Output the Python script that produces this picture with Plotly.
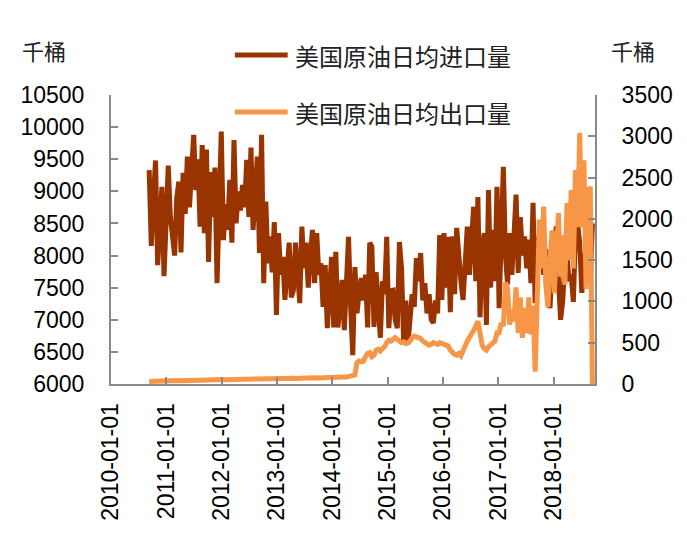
import pandas as pd
import plotly.graph_objects as go

start_date = "2010-09-10"

imports = [
    9330, 8150, 8900, 9480, 7850, 8600, 9070, 7680, 8700, 9400,
    8600, 8200, 8000, 8900, 9150, 8050, 9290, 8650, 9540, 8750,
    9350, 9880, 9020, 9500, 8450, 9720, 8350, 9650, 7900, 9300,
    8600, 9370, 7570, 8700, 9930, 8240, 8800, 8400, 9180, 8200,
    9800, 8500, 9000, 8700, 9100, 8750, 9490, 8600, 9680, 8400,
    9100, 9540, 8040, 9880, 7570, 8840, 7880, 8300, 7740, 8520,
    7075, 8350, 7700, 7980, 7310, 7900, 8200, 7350, 7460, 8200,
    7600, 7260, 8450, 7800, 8200, 7500, 8000, 8400, 7570, 8350,
    7700, 7880, 7200, 7850, 6870, 7500, 7980, 6880, 8060, 6880,
    7300, 7620, 6840, 7500, 8290, 7200, 6450, 7820, 7100, 7420,
    7650, 7300, 7700, 6880, 8200, 8140, 6890, 7740, 7300, 6720,
    7600, 7400, 8290, 6870, 7450, 7460, 7000, 6870, 8210, 7800,
    6640, 7300, 6620, 7100, 7400, 7200, 7960, 7600, 8040, 7300,
    7570, 7100, 7400, 7000, 6950, 7300, 7100, 8320, 7310, 8350,
    7500, 8290, 7120, 8300, 7400, 8430, 7900, 7600, 7310, 7800,
    8450, 7700, 8300, 8760, 7600, 8910, 7040, 8100, 8350, 6920,
    9020, 7500, 8400, 7600, 9070, 7180, 8300, 9380, 8000, 7550,
    8350, 7700, 8300, 8950, 7730, 8600, 8000, 8300, 7800, 8250,
    7570, 8820, 7260, 8300, 7900, 8400, 7700, 8100, 7500, 7180,
    7900, 8200, 8450, 7600, 7000, 7300, 7900, 8000, 7600, 7700,
    7280, 8350, 8500, 8200, 7420, 7900, 8100, 9050, 7600, 8500,
]

exports = [
    30, 32, 30, 33, 35, 34, 36, 35, 38, 37,
    38, 40, 39, 41, 40, 42, 41, 43, 42, 44,
    43, 45, 44, 46, 45, 47, 48, 47, 49, 48,
    50, 49, 51, 52, 50, 53, 52, 54, 53, 55,
    54, 56, 55, 57, 56, 58, 57, 59, 60, 58,
    60, 61, 60, 62, 61, 63, 62, 64, 63, 65,
    64, 66, 65, 67, 66, 68, 67, 69, 70, 68,
    70, 71, 70, 72, 71, 73, 72, 74, 75, 73,
    75, 76, 75, 77, 78, 76, 78, 80, 79, 81,
    80, 82, 85, 84, 88, 90, 95, 110, 260, 280,
    270, 275, 330, 370, 380, 330, 350, 410, 420, 400,
    430, 450, 500, 530, 520, 540, 560, 540, 520, 500,
    510, 490, 500, 520, 560, 580, 570, 560, 550, 520,
    500, 480, 470, 480, 500, 490, 480, 500, 490, 480,
    470, 460, 410, 380, 360, 350, 370, 340, 420, 460,
    520, 560, 590, 650, 700, 760, 620, 470, 430, 410,
    450, 470, 500, 520, 620, 620, 740, 700, 1230, 1150,
    720, 900, 760, 1170, 620, 1050, 560, 920, 620, 1050,
    600, 950, 150, 1300, 1990, 1400, 2150, 1200, 930, 1500,
    1860, 1100, 1700, 2070, 1300, 1800, 1200, 2190, 1500, 2350,
    1400, 2590, 1900, 3040, 1900, 2710, 1150, 2300, 2390, 0,
]

dates = pd.date_range(start_date, periods=len(imports), freq="14D")

year_ticks = ["2010-01-01", "2011-01-01", "2012-01-01", "2013-01-01", "2014-01-01",
              "2015-01-01", "2016-01-01", "2017-01-01", "2018-01-01"]

name_import = "美国原油日均进口量"
name_export = "美国原油日均出口量"
unit_label = "千桶"

brown = "#993300"
orange = "#F79646"
axis_gray = "#898989"
num_font = dict(family="Liberation Sans, Arial, sans-serif", size=23, color="#000000")
cjk_font = dict(family="Noto Sans CJK SC, sans-serif", size=22, color="#222222")
legend_font = dict(family="Noto Sans CJK SC, sans-serif", size=24, color="#222222")

fig = go.Figure()
fig.add_trace(go.Scatter(x=dates, y=imports, mode="lines", name=name_import,
                         line=dict(color=brown, width=5), yaxis="y"))
fig.add_trace(go.Scatter(x=dates, y=exports, mode="lines", name=name_export,
                         line=dict(color=orange, width=5), yaxis="y2"))

axis_common = dict(showline=True, linecolor=axis_gray, linewidth=2, ticks="inside",
                   ticklen=7, tickcolor=axis_gray, tickwidth=2, showgrid=False,
                   zeroline=False, tickfont=num_font)

# legend drawn as line shapes + text annotations (paper coords)
legend_rows = [(name_import, brown, 1.138), (name_export, orange, 0.941)]
shapes = []
annotations = []
for label, color, ypos in legend_rows:
    shapes.append(dict(type="line", xref="paper", yref="paper", x0=0.256, x1=0.365,
                       y0=ypos, y1=ypos, line=dict(color=color, width=5)))
    annotations.append(dict(text=label, xref="paper", yref="paper", x=0.375, y=ypos,
                            xanchor="left", yanchor="middle", showarrow=False,
                            font=legend_font))

annotations += [
    dict(text=unit_label, xref="paper", yref="paper", x=-0.1885, y=1.156,
         xanchor="left", yanchor="middle", showarrow=False, font=cjk_font),
    dict(text=unit_label, xref="paper", yref="paper", x=1.0287, y=1.156,
         xanchor="left", yanchor="middle", showarrow=False, font=cjk_font),
]

fig.update_layout(
    width=687, height=556,
    margin=dict(l=99, r=100, t=87, b=180, pad=0),
    paper_bgcolor="white", plot_bgcolor="white",
    showlegend=False,
    xaxis=dict(type="date", range=["2010-01-01", "2018-10-01"], tickvals=year_ticks,
               ticktext=year_ticks, tickangle=-90, ticklabelstandoff=8, **axis_common),
    yaxis=dict(range=[6000, 10500], dtick=500, tick0=6000, tickformat="d",
               ticklabelstandoff=20, **axis_common),
    yaxis2=dict(range=[0, 3500], dtick=500, tick0=0, tickformat="d", overlaying="y",
                side="right", ticklabelstandoff=20, **axis_common),
    shapes=shapes,
    annotations=annotations,
)

fig.write_html("out.html")
